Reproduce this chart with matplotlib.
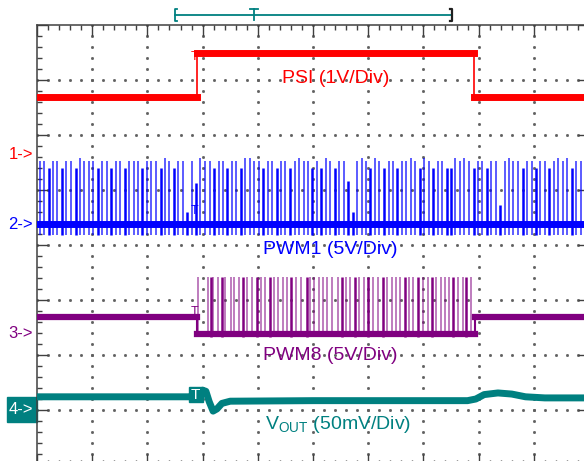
import numpy as np
import matplotlib.pyplot as plt
from matplotlib.patches import Rectangle

plt.rcParams['font.family'] = ['Liberation Sans', 'DejaVu Sans']
plt.rcParams['mathtext.fontset'] = 'custom'
plt.rcParams['mathtext.rm'] = 'Liberation Sans'

# scope screen units: x = time divisions (0..10), y = vertical divisions (-4..4)

# PSI (ch1) - step signal
psi_edges = [2.90, 7.92]
psi_low = 2.69
psi_high = 3.49

# PWM1 (ch2) - pulse train
pwm1_base = 0.38
pwm1_bottom = 0.18
pwm1_times = [
    0.05, 0.13, 0.21, 0.29, 0.37, 0.45, 0.53, 0.62, 0.70, 0.78,
    0.86, 0.94, 1.02, 1.10, 1.18, 1.26, 1.34, 1.43, 1.51, 1.59,
    1.67, 1.75, 1.83, 1.91, 1.99, 2.07, 2.15, 2.24, 2.32, 2.40,
    2.48, 2.56, 2.64, 2.72, 2.80, 2.88, 2.96, 3.05, 3.13, 3.21,
    3.29, 3.37, 3.45, 3.53, 3.61, 3.69, 3.77, 3.86, 3.94, 4.02,
    4.10, 4.18, 4.26, 4.34, 4.42, 4.50, 4.58, 4.67, 4.75, 4.83,
    4.91, 4.99, 5.07, 5.15, 5.23, 5.31, 5.39, 5.48, 5.56, 5.64,
    5.72, 5.80, 5.88, 5.96, 6.04, 6.12, 6.20, 6.29, 6.37, 6.45,
    6.53, 6.61, 6.69, 6.77, 6.85, 6.93, 7.01, 7.10, 7.18, 7.26,
    7.34, 7.42, 7.50, 7.58, 7.66, 7.74, 7.82, 7.91, 7.99, 8.07,
    8.15, 8.23, 8.31, 8.39, 8.47, 8.55, 8.63, 8.72, 8.80, 8.88,
    8.96, 9.04, 9.12, 9.20, 9.28, 9.36, 9.44, 9.53, 9.61, 9.69,
    9.77, 9.85, 9.93,
]
pwm1_tops = [
    1.53, 1.53, 1.40, 1.53, 1.53, 1.40, 1.53, 1.53, 1.40, 1.58,
    1.53, 1.53, 1.53, 1.40, 1.53, 1.53, 1.40, 1.53, 1.53, 1.40,
    1.53, 1.53, 1.53, 1.40, 1.53, 1.53, 1.53, 1.40, 1.58, 1.53,
    1.40, 1.53, 1.53, 0.60, 1.53, 1.13, 1.58, 1.53, 1.53, 1.40,
    1.53, 1.53, 1.40, 1.53, 1.53, 1.40, 1.58, 1.58, 1.53, 1.53,
    1.40, 1.53, 1.53, 1.40, 1.53, 1.53, 1.40, 1.53, 1.58, 1.53,
    1.53, 1.40, 1.53, 1.40, 1.58, 1.53, 1.40, 1.53, 1.53, 1.16,
    0.60, 1.53, 1.58, 1.53, 1.40, 1.58, 1.53, 1.40, 1.53, 1.53,
    1.40, 1.53, 1.53, 1.58, 1.53, 1.40, 1.58, 1.53, 1.40, 1.53,
    1.53, 1.40, 1.40, 1.58, 1.53, 1.58, 1.53, 1.40, 1.53, 1.53,
    1.40, 1.53, 1.53, 0.73, 1.53, 1.58, 1.53, 1.53, 1.40, 1.53,
    1.53, 1.40, 1.53, 1.53, 1.40, 1.53, 1.58, 1.53, 1.58, 1.40,
    1.53, 1.53, 1.40,
]

# PWM8 (ch3) - tri-state level, then switching between the PSI edges
pwm8_edges = [2.90, 7.93]
pwm8_idle = -1.31
pwm8_base = -1.62
pwm8_top = -0.58
pwm8_times = [
    2.92, 3.09, 3.15, 3.19, 3.27, 3.35, 3.41, 3.51, 3.57, 3.66,
    3.74, 3.81, 3.89, 3.98, 4.05, 4.13, 4.22, 4.29, 4.37, 4.46,
    4.53, 4.61, 4.69, 4.78, 4.89, 4.95, 5.02, 5.11, 5.19, 5.26,
    5.34, 5.45, 5.53, 5.60, 5.67, 5.76, 5.84, 5.93, 6.00, 6.09,
    6.18, 6.26, 6.34, 6.43, 6.50, 6.58, 6.67, 6.74, 6.82, 6.91,
    7.00, 7.08, 7.15, 7.23, 7.32, 7.39, 7.47, 7.54, 7.63, 7.71,
    7.78, 7.86,
]
pwm8_wide = [2, 5, 10, 13, 16, 21, 24, 32, 35, 38, 41, 46, 49, 52, 57, 60]

# VOUT (ch4) - transient
vout_x = [0, 2.75, 2.90, 3.00, 3.06, 3.12, 3.19, 3.26, 3.35, 3.50, 5.00,
          7.80, 7.95, 8.10, 8.35, 8.60, 8.85, 9.20, 10]
vout_y = [-2.76, -2.76, -2.72, -2.64, -2.66, -2.85, -3.02, -2.98, -2.88, -2.84, -2.83,
          -2.83, -2.80, -2.72, -2.69, -2.71, -2.76, -2.78, -2.78]

labels = ['PSI (1V/Div)', 'PWM1 (5V/Div)', 'PWM8 (5V/Div)', r'V$_{\mathrm{OUT}}$ (50mV/Div)']
markers = ['1->', '2->', '3->', '4->']
marker_levels = [1.65, 0.38, -1.6, -2.99]

red = '#ff0000'
blue = '#0000ff'
purple = '#800080'
teal = '#008080'
frame = '#404040'

fig = plt.figure(figsize=(5.84, 4.61), dpi=100)
ax = fig.add_axes([37 / 584, -4 / 461, 552 / 584, 440 / 461])
ax.set_xlim(0, 10)
ax.set_ylim(-4, 4)

# graticule
for s in ax.spines.values():
    s.set_color(frame)
    s.set_linewidth(1.1)
ax.set_xticks(range(11))
ax.set_yticks(range(-4, 5))
ax.set_xticks(np.arange(0, 10.01, 0.2), minor=True)
ax.set_yticks(np.arange(-4, 4.01, 0.2), minor=True)
ax.tick_params(which='both', direction='in', top=True, right=True,
               labelbottom=False, labelleft=False, color=frame, width=1.0)
ax.tick_params(which='major', length=8)
ax.tick_params(which='minor', length=3.6)
fine = np.arange(0, 10.01, 0.2)
for yy in range(-3, 4):
    ax.plot(fine, np.full_like(fine, yy), ls='none', marker='s', ms=1.0, color='#606060', zorder=1)
fine_y = np.arange(-4, 4.01, 0.2)
for xx in range(1, 10):
    ax.plot(np.full_like(fine_y, xx), fine_y, ls='none', marker='s', ms=1.0, color='#606060', zorder=1)

# ch1 PSI
px = [0, psi_edges[0], psi_edges[0], psi_edges[1], psi_edges[1], 10]
py = [psi_low, psi_low, psi_high, psi_high, psi_low, psi_low]
ax.plot(px[:2], py[:2], color=red, lw=5, zorder=3)
ax.plot(px[2:4], py[2:4], color=red, lw=5, zorder=3)
ax.plot(px[4:], py[4:], color=red, lw=5, zorder=3)
ax.plot([psi_edges[0]] * 2, [psi_low, psi_high], color=red, lw=1.2, zorder=3)
ax.plot([psi_edges[1]] * 2, [psi_low, psi_high], color=red, lw=1.2, zorder=3)

# ch2 PWM1
for t, top in zip(pwm1_times, pwm1_tops):
    if top < 1.5:
        ax.vlines(t, pwm1_bottom, top, color=blue, lw=1.8, zorder=3)
    else:
        ax.vlines(t, pwm1_bottom, top, color=blue, lw=1.2, alpha=0.75, zorder=3)
ax.plot([0, 10], [pwm1_base, pwm1_base], color=blue, lw=5, zorder=4)

# ch3 PWM8
for i, t in enumerate(pwm8_times):
    if i in pwm8_wide:
        ax.vlines(t, pwm8_base - 0.05, pwm8_top, color=purple, lw=1.8, zorder=3)
    else:
        ax.vlines(t, pwm8_base - 0.05, pwm8_top, color=purple, lw=1.1, alpha=0.65, zorder=3)
ax.plot([0, pwm8_edges[0]], [pwm8_idle, pwm8_idle], color=purple, lw=4.5, zorder=4)
ax.plot([pwm8_edges[0], pwm8_edges[1]], [pwm8_base, pwm8_base], color=purple, lw=4.5, zorder=4)
ax.plot([pwm8_edges[1], 10], [pwm8_idle, pwm8_idle], color=purple, lw=4.5, zorder=4)
for e in pwm8_edges:
    ax.plot([e, e], [pwm8_base, pwm8_idle], color=purple, lw=1.5, zorder=4)

# ch4 VOUT
ax.plot(vout_x, vout_y, color=teal, lw=5, zorder=4)

# trigger markers on each channel
ax.text(2.86, 3.42, 'T', color=red, fontsize=9, ha='center', va='center', zorder=5)
ax.text(2.86, 0.62, 'T', color=blue, fontsize=9, ha='center', va='center', zorder=5)
ax.text(2.85, -1.22, 'T', color=purple, fontsize=9, ha='center', va='center', zorder=5)
ax.add_patch(Rectangle((2.75, -2.86), 0.25, 0.28, color=teal, zorder=5))
ax.text(2.875, -2.72, 'T', color='white', fontsize=11, ha='center', va='center', zorder=6)

# channel labels
ax.text(4.44, 3.02, labels[0], color=red, fontsize=14, va='center')
ax.text(4.09, -0.09, labels[1], color=blue, fontsize=14, va='center')
ax.text(4.09, -2.0, labels[2], color=purple, fontsize=14, va='center')
ax.text(4.13, -3.27, labels[3], color=teal, fontsize=14, va='center')

# ground markers at left
mcol = [red, blue, purple, 'white']
for m, lev, c in zip(markers, marker_levels, mcol):
    ax.text(-0.07, lev, m, color=c, fontsize=12, ha='right', va='center', clip_on=False)
ax.add_patch(Rectangle((-0.54, -3.22), 0.54, 0.45, color=teal, clip_on=False, zorder=2))

# trigger position bar on top
bar_y = 4.18
ax.plot([2.50, 7.52], [bar_y, bar_y], color=teal, lw=1.3, clip_on=False)
ax.plot([2.53, 2.50, 2.50, 2.53], [4.29, 4.29, 4.07, 4.07], color=teal, lw=1.3, clip_on=False)
ax.plot([7.49, 7.52, 7.52, 7.49], [4.29, 4.29, 4.07, 4.07], color='#202020', lw=1.6, clip_on=False)
ax.plot([3.86, 4.00], [4.29, 4.29], color=teal, lw=1.3, clip_on=False)
ax.plot([3.93, 3.93], [4.29, 4.09], color=teal, lw=1.3, clip_on=False)

fig.savefig('out.png', dpi=100)
